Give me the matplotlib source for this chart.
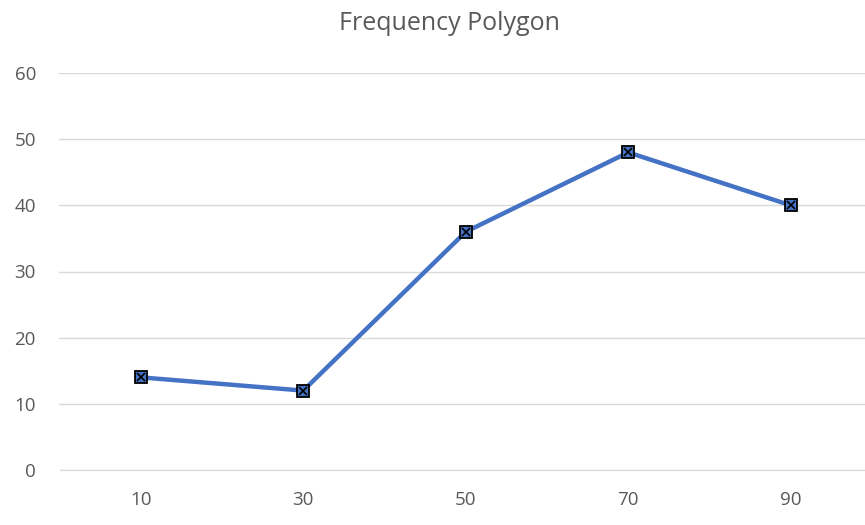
import matplotlib
matplotlib.use("Agg")
import matplotlib.pyplot as plt

categories = ["10", "30", "50", "70", "90"]
frequencies = [14, 12, 36, 48, 40]
y_ticks = [0, 10, 20, 30, 40, 50, 60]
title = "Frequency Polygon"

plt.rcParams['font.family'] = ['Open Sans', 'DejaVu Sans']
fig = plt.figure(figsize=(8.65, 5.25), dpi=100)
ax = fig.add_axes([59.5/865, 1-470/525, 812.5/865, (470-73)/525])
x = list(range(len(categories)))
ax.plot(x, frequencies, color="#4472C4", lw=3.2, zorder=3, solid_capstyle='round')
ax.plot(x, frequencies, ls='none', marker='s', ms=8, mfc="#4472C4", mec="black", mew=1.3, zorder=4)
ax.plot(x, frequencies, ls='none', marker='x', ms=6, mec="black", mew=1.2, zorder=5)
ax.set_xlim(-0.5, len(categories) - 0.5)
ax.set_ylim(0, 60)
ax.set_yticks(y_ticks)
ax.set_xticks(x)
ax.set_xticklabels(categories)
ax.grid(axis='y', color="#D9D9D9", lw=1)
ax.set_axisbelow(True)
for s in ["top", "right", "left"]:
    ax.spines[s].set_visible(False)
ax.spines["bottom"].set_color("#D9D9D9")
ax.tick_params(length=0, colors="#595959", labelsize=13.5)
ax.tick_params(axis='y', pad=17)
ax.tick_params(axis='x', pad=15)
fig.text(449/865, 1-24/525, title, ha='center', va='center', fontsize=18, color="#595959")
fig.savefig("out.png", dpi=100)
